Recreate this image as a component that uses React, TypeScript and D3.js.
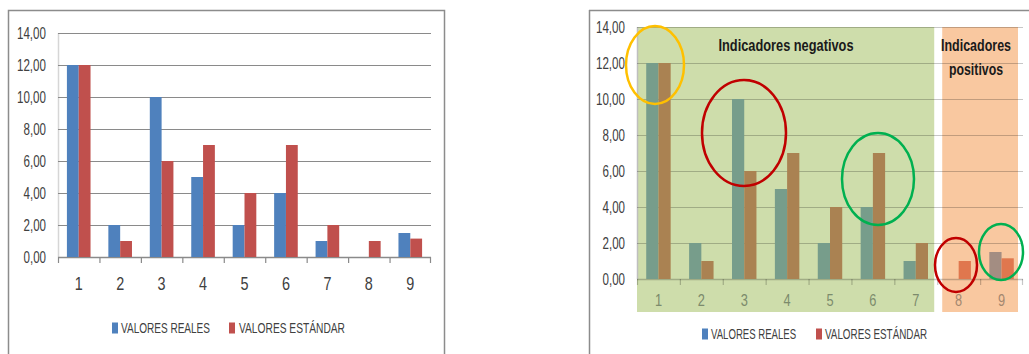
import React, { useLayoutEffect, useRef } from "react";
import * as d3 from "d3";

const categories = ["1", "2", "3", "4", "5", "6", "7", "8", "9"];
const valoresReales = [12, 2, 10, 5, 2, 4, 1, 0, 1.5];
const valoresEstandar = [12, 1, 6, 7, 4, 7, 2, 1, 1.15];
const yTicks = [0, 2, 4, 6, 8, 10, 12, 14];
const seriesNames = ["VALORES REALES", "VALORES ESTÁNDAR"];
const negativeCats = ["1", "2", "3", "4", "5", "6", "7"];
const positiveCats = ["8", "9"];

const FONT = "'Liberation Sans', Arial, sans-serif";
const fmt = (v: number) => v.toFixed(2).replace(".", ",");
const tickLen = (s: string) => s.replace(",", "").length * 6.5 + 3;

type FitProps = {
  x: number; y: number; w?: number; sx?: number; anchor?: "start" | "middle" | "end";
  size: number; fill: string; weight?: number | string; children: string;
};

function FitText({ x, y, w, sx, anchor = "start", size, fill, weight, children }: FitProps) {
  const ref = useRef<SVGTextElement>(null);
  useLayoutEffect(() => {
    const el = ref.current;
    if (!el) return;
    let s = sx ?? 1;
    if (w) {
      const natural = el.getComputedTextLength();
      if (natural > 0) s = w / natural;
    }
    el.setAttribute("transform", `translate(${x},${y}) scale(${s},1)`);
  }, [x, y, w, sx, children]);
  return (
    <text ref={ref} x={0} y={0} dy="0.36em" textAnchor={anchor} fontFamily={FONT} fontSize={size}
      fontWeight={weight} fill={fill} transform={`translate(${x},${y}) scale(${sx ?? 0.8},1)`}>{children}</text>
  );
}

type ChartProps = {
  x0: number; x1: number; yTop: number; yBottom: number;
  variant: "plain" | "annotated";
};

function Chart({ x0, x1, yTop, yBottom, variant }: ChartProps) {
  const y = d3.scaleLinear().domain([0, 14]).range([yBottom, yTop]);
  const x = d3.scaleBand<string>().domain(categories).range([x0, x1]).padding(0);
  const step = x.step();
  const inner = d3.scaleBand<number>().domain([0, 1]).range([step * 0.215, step * 0.785]).padding(0);
  const ann = variant === "annotated";

  const realColor = (c: string) => (!ann ? "#4F81BD" : negativeCats.includes(c) ? "#779D8B" : "#A38D82");
  const stdColor = (c: string) => (!ann ? "#C0504D" : negativeCats.includes(c) ? "#AA8252" : "#E0774E");

  const catLabelY = ann ? yBottom + 21 : yBottom + 27;
  const greenX0 = x0;
  const greenX1 = x(negativeCats[negativeCats.length - 1])! + step - 3;
  const orangeX0 = x(positiveCats[0])! + 5;
  const orangeX1 = x1 - 5;
  const gridColor = ann ? "rgba(0,0,0,0.22)" : "#8a8a8a";

  return (
    <g>
      {ann && (
        <g>
          <rect x={greenX0} y={yTop} width={greenX1 - greenX0} height={yBottom + 33 - yTop} fill="#CEDDAB" />
          <rect x={orangeX0} y={yTop} width={orangeX1 - orangeX0} height={yBottom + 33 - yTop} fill="#F9C8A0" />
        </g>
      )}
      <line x1={x0 + 0.5} x2={x0 + 0.5} y1={yTop} y2={yBottom} stroke={ann ? "#bfbfbf" : "#d6d6d6"} strokeWidth={1.5} />
      {yTicks.map((t) => {
        const s = fmt(t);
        return (
          <g key={t}>
            <line x1={x0} x2={x1} y1={Math.round(y(t)) + 0.5} y2={Math.round(y(t)) + 0.5}
              stroke={gridColor} strokeWidth={t === 0 ? 1.5 : 1.2} />
            <FitText x={x0 - 12} y={y(t)} w={tickLen(s)} anchor="end" size={16} fill="#404040">{s}</FitText>
          </g>
        );
      })}
      {categories.map((c) => (
        <line key={"tk" + c} x1={x(c)! + 0.5} x2={x(c)! + 0.5} y1={yBottom} y2={yBottom + 6}
          stroke={gridColor} strokeWidth={1.2} />
      ))}
      <line x1={x1 - 0.5} x2={x1 - 0.5} y1={yBottom} y2={yBottom + 6} stroke={gridColor} strokeWidth={1.2} />
      {categories.map((c, i) => (
        <g key={c}>
          {valoresReales[i] > 0 && (
            <rect x={x(c)! + inner(0)!} y={y(valoresReales[i])} width={inner.bandwidth()}
              height={y(0) - y(valoresReales[i])} fill={realColor(c)} />
          )}
          <rect x={x(c)! + inner(1)!} y={y(valoresEstandar[i])} width={inner.bandwidth()}
            height={y(0) - y(valoresEstandar[i])} fill={stdColor(c)} />
          <FitText x={x(c)! + step / 2} y={catLabelY} sx={0.8} anchor="middle" size={ann ? 16 : 18}
            fill={!ann ? "#404040" : negativeCats.includes(c) ? "#7C8B6C" : "#A3876F"}>{c}</FitText>
        </g>
      ))}
    </g>
  );
}

function Legend({ items, y, size }: { items: { sq: number; tx: number; w: number }[]; y: number; size: number }) {
  const colors = ["#4F81BD", "#C0504D"];
  return (
    <g>
      {seriesNames.map((name, i) => (
        <g key={name}>
          <rect x={items[i].sq} y={y - 5.5} width={6} height={11} fill={colors[i]} />
          <FitText x={items[i].tx} y={y} w={items[i].w} size={size} fill="#404040">{name}</FitText>
        </g>
      ))}
    </g>
  );
}

export default function App() {
  const ellipses = [
    { cx: 655, cy: 65, rx: 29, ry: 39, c: "#FFC000" },
    { cx: 744, cy: 133, rx: 42, ry: 53, c: "#C00000" },
    { cx: 878, cy: 179, rx: 36, ry: 46, c: "#00B050" },
    { cx: 956, cy: 265, rx: 21, ry: 27, c: "#C00000" },
    { cx: 1001, cy: 252, rx: 22, ry: 28, c: "#00B050" },
  ];
  return (
    <svg width={1029} height={354} style={{ position: "absolute", left: 0, top: 0, background: "#fff" }}>
      <rect x={8.5} y={10.5} width={436} height={360} fill="#fff" stroke="#8c8c8c" strokeWidth={1.5} />
      <Chart x0={58} x1={431} yTop={33} yBottom={257} variant="plain" />
      <Legend y={328} size={15} items={[{ sq: 112, tx: 121, w: 89 }, { sq: 229, tx: 239, w: 106 }]} />

      <line x1={589.5} x2={589.5} y1={10} y2={354} stroke="#8c8c8c" strokeWidth={1.5} />
      <line x1={589} x2={1029} y1={10.5} y2={10.5} stroke="#8c8c8c" strokeWidth={1.5} />
      <Chart x0={637} x1={1023} yTop={27} yBottom={279} variant="annotated" />
      <FitText x={786} y={45} w={135} anchor="middle" size={17} weight={600} fill="#1a1a1a">Indicadores negativos</FitText>
      <FitText x={976} y={45} w={70} anchor="middle" size={17} weight={600} fill="#1a1a1a">Indicadores</FitText>
      <FitText x={976} y={69} w={54} anchor="middle" size={17} weight={600} fill="#1a1a1a">positivos</FitText>
      {ellipses.map((e, i) => (
        <ellipse key={i} cx={e.cx} cy={e.cy} rx={e.rx} ry={e.ry} fill="none" stroke={e.c} strokeWidth={2.5} />
      ))}
      <Legend y={334} size={14} items={[{ sq: 702, tx: 711, w: 85 }, { sq: 816, tx: 825, w: 102 }]} />
    </svg>
  );
}
